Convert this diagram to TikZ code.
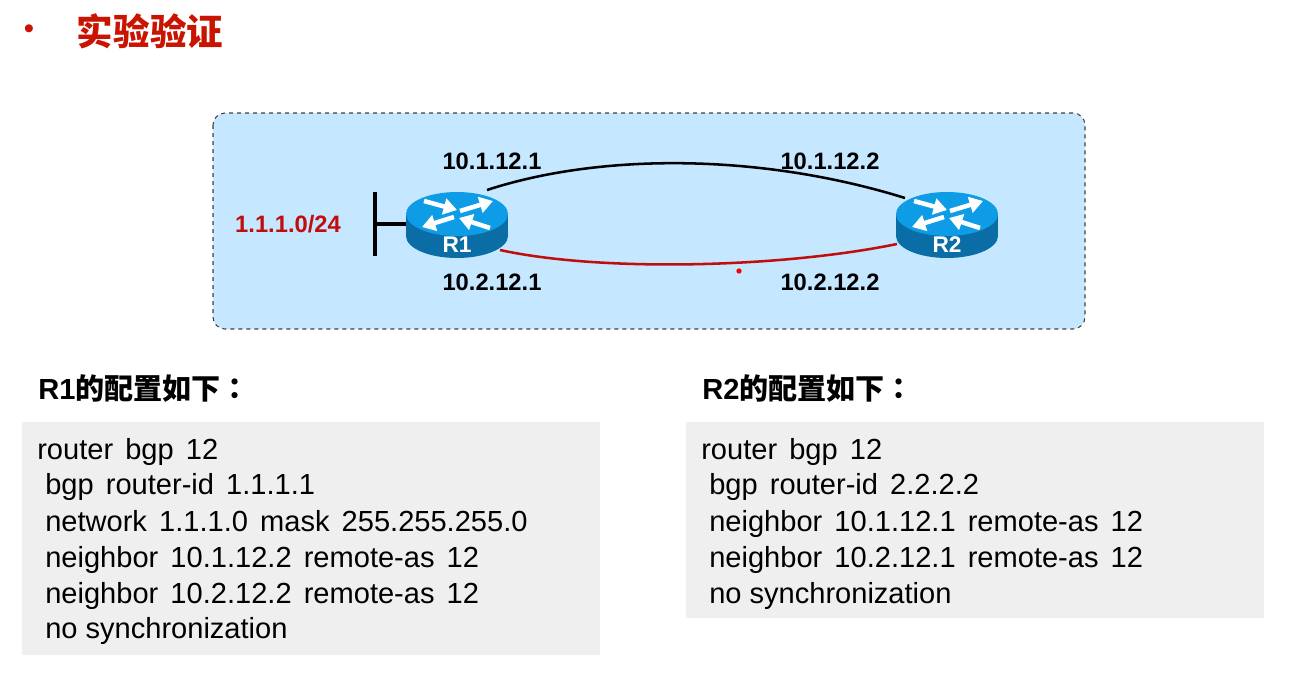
\documentclass[tikz,border=0pt]{standalone}
\usepackage{fontspec}
\usepackage{xcolor}
\setmainfont{Liberation Sans}[WordSpace=1.5]
\newfontfamily\cjk{Noto Sans CJK SC}
\newfontfamily\cjkcolon{Noto Sans CJK TC}
\usetikzlibrary{arrows.meta}
\definecolor{titlered}{HTML}{C81400}
\definecolor{linkred}{HTML}{C00D0D}
\definecolor{panelblue}{HTML}{C5E7FF}
\definecolor{codegray}{HTML}{EFEFEF}
\definecolor{routertop}{HTML}{0F9CE6}
\definecolor{routerside}{HTML}{0A6DA6}
\tikzset{
  addr/.style={font=\fontsize{17.8}{20}\selectfont\bfseries, inner sep=0pt},
  heading/.style={font=\fontsize{21.8}{24}\selectfont\bfseries, anchor=base west, inner sep=0pt},
  codeline/.style={font=\fontsize{21.8}{24}\selectfont, anchor=base west, inner sep=0pt},
  routerlabel/.style={text=white, font=\fontsize{17}{20}\selectfont\bfseries, inner sep=0pt},
  routerarrow/.style={draw=white, line width=3.4pt, -{Triangle[length=10pt,width=12pt]}},
  router/.pic={
    \fill [routerside] (0,22) ellipse [x radius=51, y radius=22];
    \fill [routerside] (-51,0) rectangle (51,22);
    \fill [routertop] (0,0) ellipse [x radius=51, y radius=22];
    \draw [routerarrow] (-33,-13) -- (0,-4);
    \draw [routerarrow] (3,-3) -- (36,-13);
    \draw [routerarrow] (-3,3) -- (-35,13);
    \draw [routerarrow] (33,14) -- (2,4);
  }
}
\begin{document}
\begin{tikzpicture}[x=0.75pt, y=-0.75pt]
      \useasboundingbox (0,0) rectangle (1303,682);
      \node [text=titlered, font=\fontsize{22}{26}\selectfont, inner sep=0pt] (bullet) at (29,32) {•};
      \node [text=titlered, font=\fontsize{27.4}{30}\selectfont\cjk\bfseries, inner sep=0pt] (title) at (150,31) {实验验证};
      % topology
      \draw [fill=panelblue, draw=black!75, dashed, line width=0.8pt, rounded corners=9pt] (213,113) rectangle (1085,329);
      \pic at (457,214) {router};
      \pic at (947,214) {router};
      \node [routerlabel] (r1) at (457,245) {R1};
      \node [routerlabel] (r2) at (947,245) {R2};
      \coordinate (r1a) at (487,190);
      \coordinate (r1b) at (500,250);
      \coordinate (r2a) at (905,198);
      \coordinate (r2b) at (897,244);
      \coordinate (r1w) at (406,224);
      \coordinate (lanc) at (375,224);
      \coordinate (lant) at (375,192);
      \coordinate (lanb) at (375,256);
      \draw [line width=1.9pt] (r1a) .. controls (600,153) and (760,153) .. (r2a);
      \draw [linkred, line width=1.9pt] (r1b) .. controls (600,272) and (780,268) .. (r2b);
      \draw [line width=2.4pt] (lant) -- (lanb);
      \draw [line width=2.4pt] (lanc) -- (r1w);
      \node [fill=red, circle, inner sep=0pt, minimum size=4pt] (dot) at (739,271) {};
      \node [addr, text=linkred] (net) at (288,224) {1.1.1.0/24};
      \node [addr] (a11) at (492,161) {10.1.12.1};
      \node [addr] (a12) at (830,161) {10.1.12.2};
      \node [addr] (a21) at (492,282) {10.2.12.1};
      \node [addr] (a22) at (830,282) {10.2.12.2};
      % configs
      \node [heading] (h1) at (38,399) {R1{\cjk 的配置如下}{\cjkcolon ：}};
      \node [heading] (h2) at (702,399) {R2{\cjk 的配置如下}{\cjkcolon ：}};
      \fill [codegray] (22,422) rectangle (600,655);
      \fill [codegray] (686,422) rectangle (1264,618);
      \node [codeline] (l1) at (37,459) {router bgp 12};
      \node [codeline] (l2) at (45,494) {bgp router-id 1.1.1.1};
      \node [codeline] (l3) at (45,531) {network 1.1.1.0 mask 255.255.255.0};
      \node [codeline] (l4) at (45,567) {neighbor 10.1.12.2 remote-as 12};
      \node [codeline] (l5) at (45,603) {neighbor 10.2.12.2 remote-as 12};
      \node [codeline] (l6) at (45,638) {no\hspace{6pt}synchronization};
      \node [codeline] (m1) at (701,459) {router bgp 12};
      \node [codeline] (m2) at (709,494) {bgp router-id 2.2.2.2};
      \node [codeline] (m3) at (709,531) {neighbor 10.1.12.1 remote-as 12};
      \node [codeline] (m4) at (709,567) {neighbor 10.2.12.1 remote-as 12};
      \node [codeline] (m5) at (709,603) {no\hspace{6pt}synchronization};
\end{tikzpicture}
\end{document}
